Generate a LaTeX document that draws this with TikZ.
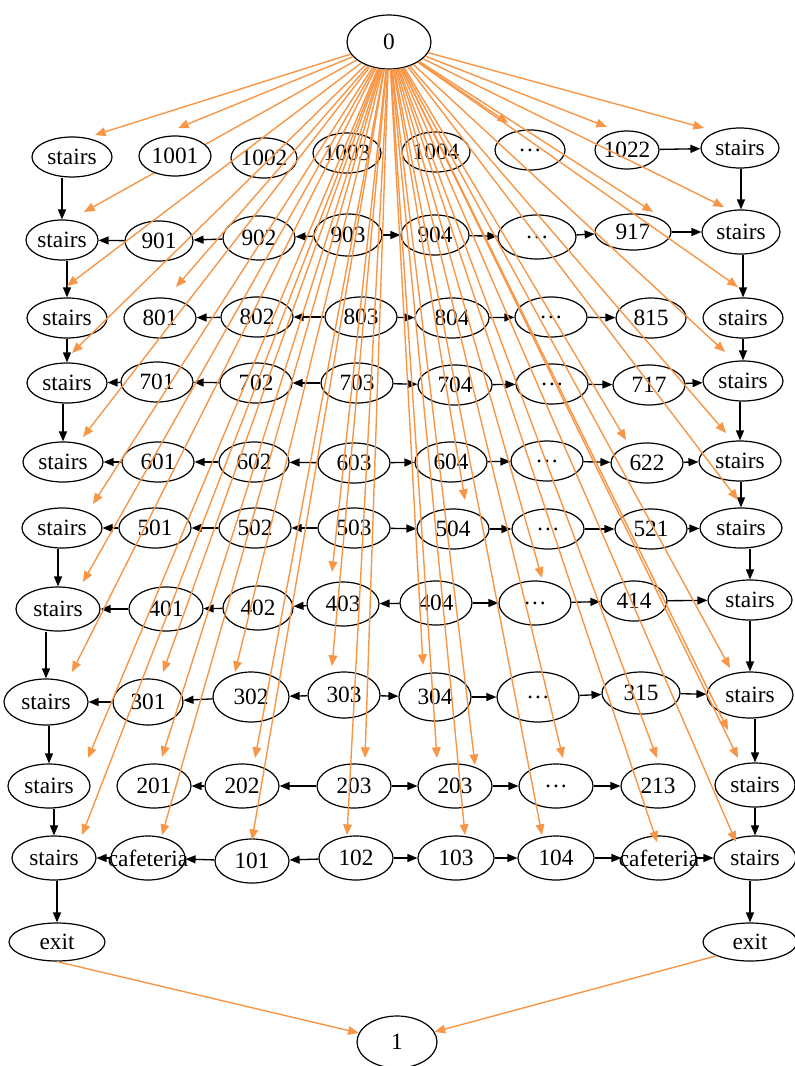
\documentclass[tikz,border=0pt]{standalone}
\usepackage{fontspec}
\setmainfont{Liberation Serif}
\usetikzlibrary{shapes.geometric,arrows.meta}
\definecolor{org}{HTML}{F79646}
\pgfdeclarelayer{bg}
\pgfsetlayers{bg,main}
\tikzset{
  nd/.style={ellipse, draw, line width=0.9pt, fill=white, inner sep=0pt, font=\fontsize{17.5}{20}\selectfont},
  blk/.style={line width=1pt, -{Triangle[length=7.5pt,width=6pt]}},
  oarr/.style={draw=org, line width=1.05pt, -{Triangle[length=8pt,width=6.5pt]}, color=org}
}
\newcommand\EN[6]{\node[nd, minimum width=#4*0.75pt, minimum height=#5*0.75pt] (#1) at (#2,#3) {\makebox[0pt]{#6}};}
\begin{document}
\begin{tikzpicture}[x=0.75pt,y=-0.75pt]
\useasboundingbox (0,0) rectangle (795,1066);
% nodes
\EN{n0}{389}{42}{84}{54}{0}
\EN{n1}{397}{1042}{80}{52}{1}
% row 10
\EN{s10L}{72}{157}{80}{40}{stairs}
\EN{r1001}{175}{156}{72}{40}{1001}
\EN{r1002}{264}{158}{66}{40}{1002}
\EN{r1003}{347}{153}{68}{40}{1003}
\EN{r1004}{436}{152}{68}{40}{1004}
\EN{d10}{530}{150}{70}{40}{…}
\EN{r1022}{627}{150}{64}{38}{1022}
\EN{s10R}{740}{148}{78}{40}{stairs}
% row 9
\EN{s9L}{62}{240}{72}{40}{stairs}
\EN{r901}{159}{241}{68}{40}{901}
\EN{r902}{259}{238}{72}{44}{902}
\EN{r903}{348}{235}{68}{42}{903}
\EN{r904}{435}{235}{68}{40}{904}
\EN{d9}{537}{237}{78}{44}{…}
\EN{r917}{633}{232}{76}{36}{917}
\EN{s9R}{741}{232}{78}{44}{stairs}
% row 8
\EN{s8L}{67}{318}{80}{40}{stairs}
\EN{r801}{160}{318}{72}{40}{801}
\EN{r802}{257}{317}{72}{40}{802}
\EN{r803}{361}{317}{72}{40}{803}
\EN{r804}{452}{318}{74}{40}{804}
\EN{d8}{551}{317}{72}{40}{…}
\EN{r815}{651}{318}{70}{40}{815}
\EN{s8R}{743}{318}{80}{40}{stairs}
% row 7
\EN{s7L}{67}{383}{80}{40}{stairs}
\EN{r701}{157}{382}{72}{40}{701}
\EN{r702}{256}{383}{72}{40}{702}
\EN{r703}{357}{383}{72}{40}{703}
\EN{r704}{455}{385}{74}{40}{704}
\EN{d7}{552}{384}{72}{40}{…}
\EN{r717}{649}{385}{72}{40}{717}
\EN{s7R}{743}{381}{80}{40}{stairs}
% row 6
\EN{s6L}{63}{462}{80}{40}{stairs}
\EN{r601}{158}{462}{72}{40}{601}
\EN{r602}{254}{462}{70}{40}{602}
\EN{r603}{354}{463}{72}{40}{603}
\EN{r604}{451}{462}{72}{40}{604}
\EN{d6}{547}{461}{72}{40}{…}
\EN{r622}{647}{463}{72}{40}{622}
\EN{s6R}{740}{461}{82}{40}{stairs}
% row 5
\EN{s5L}{62}{528}{80}{40}{stairs}
\EN{r501}{155}{528}{72}{40}{501}
\EN{r502}{255}{528}{72}{40}{502}
\EN{r503}{354}{528}{72}{40}{503}
\EN{r504}{453}{529}{72}{40}{504}
\EN{d5}{548}{529}{72}{40}{…}
\EN{r521}{651}{529}{72}{40}{521}
\EN{s5R}{741}{528}{82}{40}{stairs}
% row 4
\EN{s4L}{58}{609}{84}{44}{stairs}
\EN{r401}{166}{609}{74}{44}{401}
\EN{r402}{258}{608}{70}{44}{402}
\EN{r403}{343}{604}{72}{44}{403}
\EN{r404}{436}{603}{72}{44}{404}
\EN{d4}{535}{603}{72}{44}{…}
\EN{r414}{634}{601}{66}{40}{414}
\EN{s4R}{750}{600}{84}{40}{stairs}
% row 3
\EN{s3L}{46}{702}{84}{46}{stairs}
\EN{r301}{148}{702}{70}{46}{301}
\EN{r302}{251}{697}{76}{50}{302}
\EN{r303}{344}{695}{72}{46}{303}
\EN{r304}{435}{697}{72}{48}{304}
\EN{d3}{538}{697}{82}{50}{…}
\EN{r315}{641}{693}{78}{42}{315}
\EN{s3R}{750}{695}{86}{46}{stairs}
% row 2
\EN{s2L}{49}{786}{82}{44}{stairs}
\EN{r201}{154}{786}{74}{44}{201}
\EN{r202}{242}{786}{74}{44}{202}
\EN{r203}{354}{786}{74}{44}{203}
\EN{r203b}{455}{786}{74}{44}{203}
\EN{d2}{556}{786}{74}{44}{…}
\EN{r213}{658}{786}{74}{44}{213}
\EN{s2R}{755}{785}{80}{44}{stairs}
% row 1
\EN{s1L}{54}{858}{84}{44}{stairs}
\EN{cafL}{148}{858}{74}{44}{cafeteria}
\EN{r101}{252}{861}{74}{44}{101}
\EN{r102}{356}{858}{74}{44}{102}
\EN{r103}{456}{858}{76}{44}{103}
\EN{r104}{556}{858}{76}{44}{104}
\EN{cafR}{659}{858}{74}{44}{cafeteria}
\EN{s1R}{755}{858}{82}{44}{stairs}
% exits
\EN{exL}{57}{942}{96}{38}{exit}
\EN{exR}{750}{942}{94}{38}{exit}

% vertical stairs connectors
\foreach \a/\b in {s10L/s9L,s9L/s8L,s8L/s7L,s7L/s6L,s5L/s4L,s4L/s3L,s3L/s2L,s2L/s1L,s1L/exL,
  s10R/s9R,s9R/s8R,s8R/s7R,s7R/s6R,s6R/s5R,s5R/s4R,s4R/s3R,s3R/s2R,s2R/s1R,s1R/exR}
  \draw[blk] (\a.south -| \b.north) -- (\b.north);

% horizontal connectors
\foreach \a/\b in {r1022/s10R,
  r902/r901,r901/s9L,r903/r902,r903/r904,r904/d9,d9/r917,r917/s9R,
  r802/r801,r803/r802,r803/r804,r804/d8,d8/r815,
  r701/s7L,r702/r701,r703/r702,r703/r704,r704/d7,d7/r717,r717/s7R,
  r601/s6L,r602/r601,r603/r602,r603/r604,r604/d6,d6/r622,r622/s6R,
  r501/s5L,r502/r501,r503/r502,r503/r504,r504/d5,d5/r521,r521/s5R,
  r401/s4L,r402/r401,r403/r402,r404/r403,r404/d4,d4/r414,r414/s4R,
  r301/s3L,r302/r301,r303/r302,r303/r304,r304/d3,d3/r315,r315/s3R,
  r202/r201,r203/r202,r203/r203b,r203b/d2,d2/r213,
  cafL/s1L,r101/cafL,r102/r101,r102/r103,r103/r104,r104/cafR,cafR/s1R}
  \draw[blk] (\a) -- (\b);

% arrow tips of the orange connectors
\coordinate (t1) at (95,135);
\coordinate (t2) at (178,128);
\coordinate (t3) at (84,212);
\coordinate (t4) at (508,123);
\coordinate (t5) at (607,127);
\coordinate (t6) at (704,128);
\coordinate (t7) at (653,212);
\coordinate (t8) at (724,207);
\coordinate (t9) at (176,287);
\coordinate (t10) at (67,286);
\coordinate (t11) at (72,353);
\coordinate (t12) at (83,437);
\coordinate (t13) at (93,504);
\coordinate (t14) at (738,287);
\coordinate (t15) at (725,352);
\coordinate (t16) at (726,433);
\coordinate (t17) at (738,500);
\coordinate (t18) at (626,440);
\coordinate (t19) at (465,500);
\coordinate (t20) at (83,582);
\coordinate (t21) at (72,672);
\coordinate (t22) at (88,758);
\coordinate (t23) at (163,672);
\coordinate (t24) at (235,672);
\coordinate (t25) at (332,572);
\coordinate (t26) at (332,666);
\coordinate (t27) at (162,757);
\coordinate (t28) at (255,758);
\coordinate (t29) at (365,758);
\coordinate (t30) at (542,578);
\coordinate (t31) at (423,665);
\coordinate (t32) at (437,758);
\coordinate (t33) at (475,765);
\coordinate (t34) at (563,758);
\coordinate (t35) at (657,758);
\coordinate (t36) at (730,668);
\coordinate (t37) at (728,730);
\coordinate (t38) at (738,758);
\coordinate (t39) at (736,842);
\coordinate (t40) at (657,842);
\coordinate (t41) at (465,835);
\coordinate (t42) at (542,835);
\coordinate (t43) at (347,835);
\coordinate (t44) at (252,840);
\coordinate (t45) at (162,835);
\coordinate (t46) at (82,835);

\begin{pgfonlayer}{bg}
  \draw[oarr] (n0) -- (t3);
\end{pgfonlayer}
\foreach \k in {1,2,4,5,6,7,8,9,10,11,12,13,14,15,16,17,18,19,20,21,22,23,24,25,26,27,28,29,30,31,32,33,34,35,36,37,38,39,40,41,42,43,44,45,46}
  \draw[oarr] (n0) -- (t\k);

\draw[oarr] (exL.south) -- (n1);
\draw[oarr] (exR.south west) -- (n1);
\end{tikzpicture}
\end{document}
